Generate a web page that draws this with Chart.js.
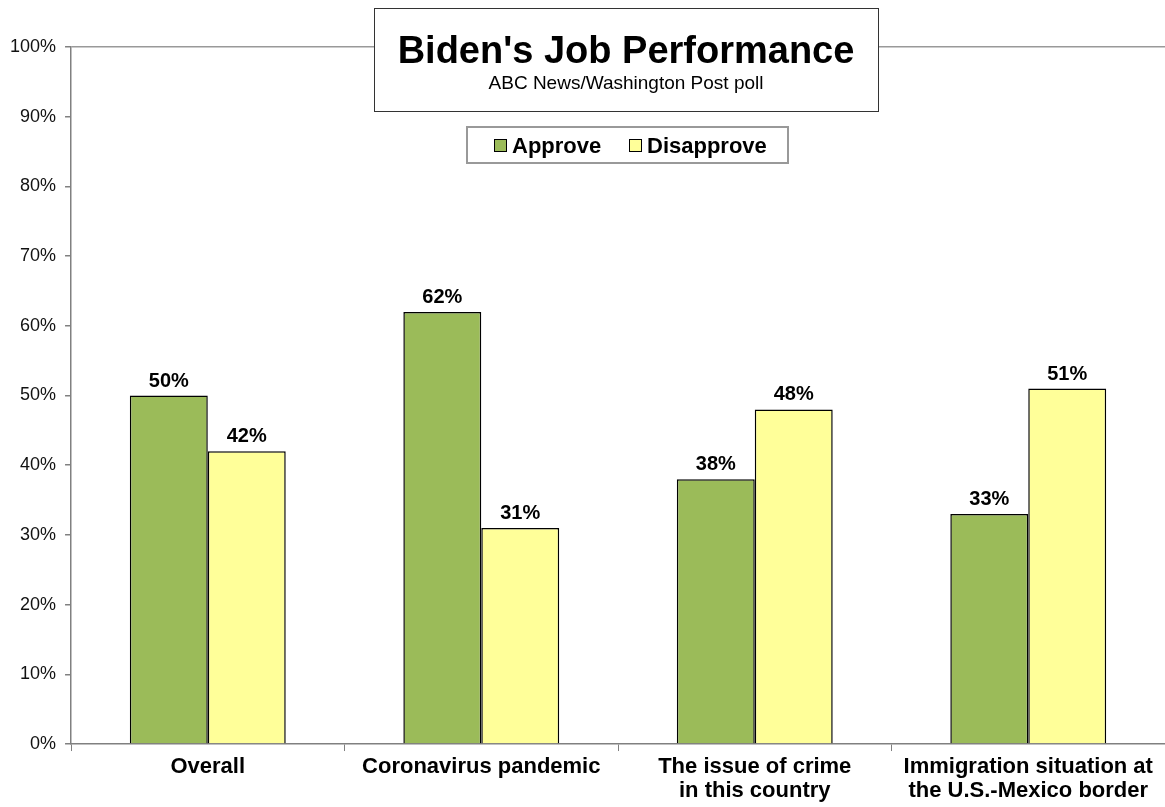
<!DOCTYPE html>
<html>
<head>
<meta charset="utf-8">
<script src="https://cdn.jsdelivr.net/npm/chart.js@4.4.0/dist/chart.umd.min.js"></script>
<style>
  html, body { margin: 0; padding: 0; background: #fff; }
  #wrap { width: 1165px; height: 807px; position: relative; }
</style>
</head>
<body>
<div id="wrap"><canvas id="chart"></canvas></div>
<script>
const categories = [
    'Overall',
    'Coronavirus pandemic',
    ['The issue of crime', 'in this country'],
    ['Immigration situation at', 'the U.S.-Mexico border']
];
const approve = [50, 62, 38, 33];
const disapprove = [42, 31, 48, 51];
const yTicks = [0, 10, 20, 30, 40, 50, 60, 70, 80, 90, 100];

const titleText = "Biden's Job Performance";
const subtitleText = 'ABC News/Washington Post poll';

const FONT = '"Liberation Sans", Arial, sans-serif';

// value labels above each bar
const barLabels = {
    id: 'barLabels',
    afterDatasetsDraw(chart) {
        const ctx = chart.ctx;
        ctx.save();
        ctx.font = 'bold 20px ' + FONT;
        ctx.fillStyle = '#000';
        ctx.textAlign = 'center';
        ctx.textBaseline = 'alphabetic';
        chart.data.datasets.forEach((ds, i) => {
            chart.getDatasetMeta(i).data.forEach((bar, j) => {
                ctx.fillText(ds.data[j] + '%', bar.x, bar.y - 9);
            });
        });
        ctx.restore();
    }
};

// title box + legend box drawn over the plot
const titleAndLegend = {
    id: 'titleAndLegend',
    afterDraw(chart) {
        const ctx = chart.ctx;
        ctx.save();

        // title box
        ctx.fillStyle = '#fff';
        ctx.fillRect(374, 8, 504, 103);
        ctx.strokeStyle = '#333';
        ctx.lineWidth = 1;
        ctx.strokeRect(374.5, 8.5, 504, 103);
        ctx.fillStyle = '#000';
        ctx.textAlign = 'center';
        ctx.font = 'bold 38px ' + FONT;
        ctx.fillText(titleText, 626, 63);
        ctx.font = '19px ' + FONT;
        ctx.fillText(subtitleText, 626, 89);

        // legend box
        ctx.fillStyle = '#fff';
        ctx.fillRect(467, 127, 321, 36);
        ctx.strokeStyle = '#999';
        ctx.lineWidth = 2;
        ctx.strokeRect(467, 127, 321, 36);

        ctx.font = 'bold 22px ' + FONT;
        ctx.textAlign = 'left';
        ctx.textBaseline = 'alphabetic';
        const items = chart.data.datasets;
        const xs = [494, 629];
        items.forEach((ds, i) => {
            ctx.fillStyle = ds.backgroundColor;
            ctx.fillRect(xs[i], 139, 12, 12);
            ctx.strokeStyle = '#000';
            ctx.lineWidth = 1;
            ctx.strokeRect(xs[i] + 0.5, 139.5, 12, 12);
            ctx.fillStyle = '#000';
            ctx.fillText(ds.label, xs[i] + 18, 153);
        });
        ctx.restore();
    }
};

new Chart(document.getElementById('chart'), {
    type: 'bar',
    data: {
        labels: categories,
        datasets: [
            {
                label: 'Approve',
                data: approve,
                backgroundColor: '#9BBB59',
                borderColor: '#000',
                borderWidth: 1.5,
                barPercentage: 1,
                categoryPercentage: 0.57
            },
            {
                label: 'Disapprove',
                data: disapprove,
                backgroundColor: '#FFFF99',
                borderColor: '#000',
                borderWidth: 1.5,
                barPercentage: 1,
                categoryPercentage: 0.57
            }
        ]
    },
    options: {
        responsive: true,
        maintainAspectRatio: false,
        animation: false,
        layout: { padding: { top: 47, left: 1, right: 0, bottom: 0 } },
        plugins: {
            legend: { display: false },
            title: { display: false },
            tooltip: { enabled: false }
        },
        scales: {
            x: {
                grid: {
                    offset: true,
                    drawOnChartArea: false,
                    tickLength: 7,
                    color: '#808080',
                    lineWidth: 1
                },
                border: { color: '#808080', width: 1.5 },
                ticks: {
                    color: '#000',
                    font: { family: FONT, size: 22, weight: 'bold', lineHeight: 1.09 },
                    padding: 4,
                    maxRotation: 0,
                    autoSkip: false
                }
            },
            y: {
                min: 0,
                max: 100,
                afterBuildTicks(axis) {
                    axis.ticks = yTicks.map(v => ({ value: v }));
                },
                grid: {
                    color: c => (c.tick && c.tick.value === 100 ? '#999' : 'rgba(0,0,0,0)'),
                    tickColor: '#808080',
                    tickLength: 6,
                    lineWidth: 1.5
                },
                border: { color: '#808080', width: 1.5 },
                ticks: {
                    color: '#111',
                    font: { family: FONT, size: 18 },
                    padding: 9,
                    callback: v => v + '%'
                }
            }
        }
    },
    plugins: [barLabels, titleAndLegend]
});
</script>
</body>
</html>
